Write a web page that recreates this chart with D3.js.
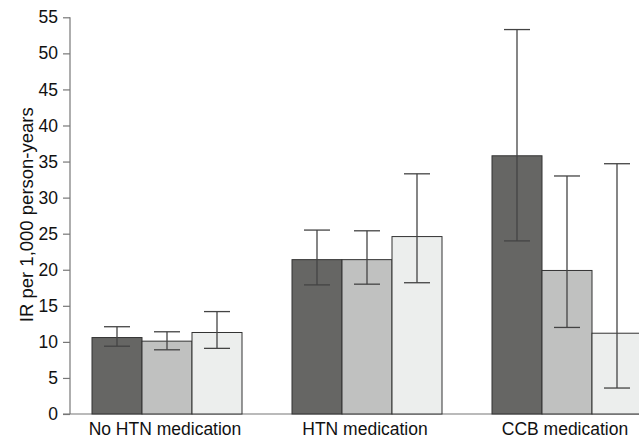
<!DOCTYPE html>
<html>
<head>
<meta charset="utf-8">
<script src="https://cdn.jsdelivr.net/npm/d3@7"></script>
<style>
  html, body { margin: 0; padding: 0; background: #fff; }
  svg { display: block; }
  text { font-family: "Liberation Sans", Arial, Helvetica, sans-serif; fill: #111; }
</style>
</head>
<body>
<svg id="chart" width="639" height="440"></svg>
<script>
const categories = ["No HTN medication", "HTN medication", "CCB medication"];
const series = ["s1", "s2", "s3"];
const values = [
  [10.6, 10.1, 11.3],
  [21.4, 21.4, 24.6],
  [35.8, 19.9, 11.2]
];
const lower = [
  [9.4, 8.9, 9.1],
  [17.9, 18.0, 18.2],
  [24.0, 12.0, 3.6]
];
const upper = [
  [12.1, 11.4, 14.2],
  [25.5, 25.4, 33.3],
  [53.3, 33.0, 34.7]
];
const yTicks = [0, 5, 10, 15, 20, 25, 30, 35, 40, 45, 50, 55];
const colors = ["#666664", "#c0c1c0", "#eceeed"];

const svg = d3.select("#chart");
const yBase = 414, yTop = 17.3, xAxis = 70;

const y = d3.scaleLinear().domain([0, 55]).range([yBase, yTop]);
const x0 = d3.scaleBand().domain(categories).range([67, 667]).paddingInner(0.25).paddingOuter(0.125);
const x1 = d3.scaleBand().domain(series).range([0, x0.bandwidth()]);

// y axis
const yAxisG = svg.append("g").attr("transform", `translate(${xAxis},0)`)
  .call(d3.axisLeft(y).tickValues(yTicks).tickSize(7).tickPadding(5).tickFormat(d3.format("d")));
yAxisG.select(".domain").attr("stroke", "#777").attr("stroke-width", 1.2).attr("d", `M0,${yTop}V${yBase}`);
yAxisG.selectAll(".tick line").attr("stroke", "#777").attr("stroke-width", 1.2);
yAxisG.selectAll(".tick text").attr("font-size", "17.5px").attr("fill", "#111")
  .attr("font-family", '"Liberation Sans", Arial, sans-serif');

// baseline
svg.append("line").attr("x1", 63).attr("x2", 639).attr("y1", yBase).attr("y2", yBase)
  .attr("stroke", "#777").attr("stroke-width", 1.2);

// bars
const groups = svg.selectAll("g.grp").data(categories).enter().append("g")
  .attr("class", "grp").attr("transform", d => `translate(${x0(d)},0)`);

groups.each(function(cat, gi) {
  const g = d3.select(this);
  series.forEach((s, si) => {
    const v = values[gi][si];
    g.append("rect")
      .attr("x", x1(s)).attr("width", x1.bandwidth())
      .attr("y", y(v)).attr("height", y(0) - y(v))
      .attr("fill", colors[si]).attr("stroke", "#333").attr("stroke-width", 1);
  });
  series.forEach((s, si) => {
    const cx = x1(s) + x1.bandwidth() / 2;
    const lo = lower[gi][si], hi = upper[gi][si];
    g.append("line").attr("x1", cx).attr("x2", cx).attr("y1", y(lo)).attr("y2", y(hi))
      .attr("stroke", "#444").attr("stroke-width", 1.3);
    [lo, hi].forEach(val => {
      g.append("line").attr("x1", cx - 13).attr("x2", cx + 13).attr("y1", y(val)).attr("y2", y(val))
        .attr("stroke", "#444").attr("stroke-width", 1.3);
    });
  });
});

// x labels
svg.selectAll("text.xl").data(categories).enter().append("text")
  .attr("class", "xl")
  .attr("x", d => x0(d) + x0.bandwidth() / 2 - 2)
  .attr("y", 435)
  .attr("text-anchor", "middle")
  .attr("font-size", "17.5px")
  .text(d => d);

// y title
svg.append("text")
  .attr("transform", "translate(33,214.7) rotate(-90)")
  .attr("text-anchor", "middle")
  .attr("font-size", "18.5px")
  .text("IR per 1,000 person-years");
</script>
</body>
</html>
